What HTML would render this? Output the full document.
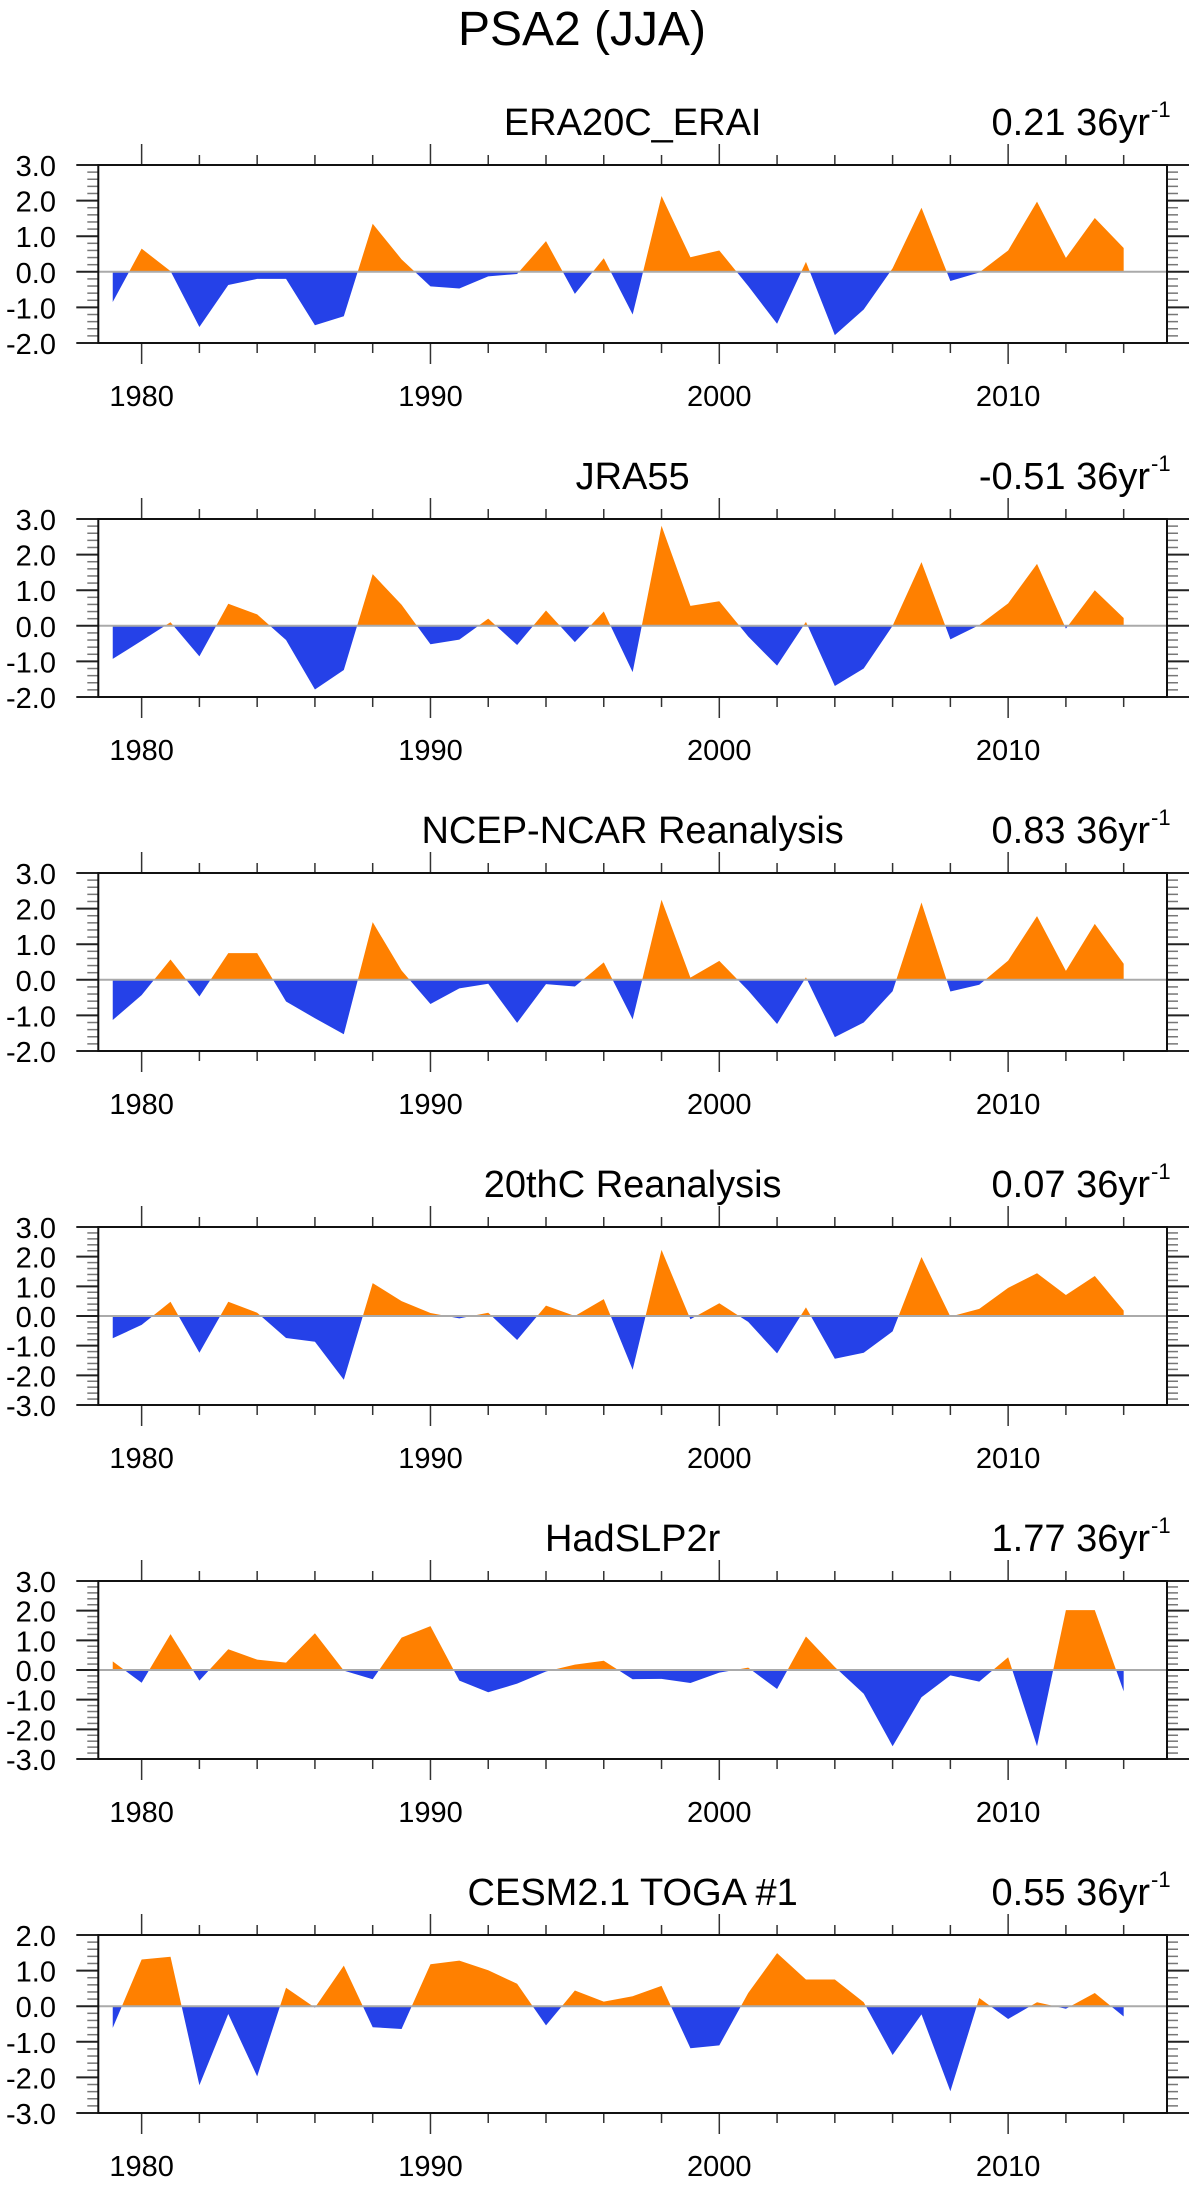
<!DOCTYPE html>
<html><head><meta charset="utf-8"><style>
html,body{margin:0;padding:0;background:#fff;}
svg{display:block;font-family:"Liberation Sans",sans-serif;}
</style></head><body>
<svg id="fig" width="1198" height="2186" viewBox="0 0 1198 2186" xmlns="http://www.w3.org/2000/svg">
<text x="582" y="45" font-size="48" text-anchor="middle">PSA2 (JJA)</text>
</svg>
<script>
const years = [1979,1980,1981,1982,1983,1984,1985,1986,1987,1988,1989,1990,1991,1992,1993,1994,1995,1996,1997,1998,1999,2000,2001,2002,2003,2004,2005,2006,2007,2008,2009,2010,2011,2012,2013,2014];
const panelTitles = ["ERA20C_ERAI","JRA55","NCEP-NCAR Reanalysis","20thC Reanalysis","HadSLP2r","CESM2.1 TOGA #1"];
const trendLabels = ["0.21","-0.51","0.83","0.07","1.77","0.55"];
const yMins = [-2,-2,-2,-3,-3,-3];
const yMaxs = [3,3,3,3,3,2];
const xTickLabels = [1980,1990,2000,2010];
const era20c = [-0.85,0.65,0.02,-1.55,-0.37,-0.2,-0.2,-1.5,-1.25,1.35,0.35,-0.41,-0.47,-0.13,-0.06,0.86,-0.62,0.38,-1.2,2.13,0.41,0.6,-0.4,-1.46,0.28,-1.78,-1.06,0.1,1.8,-0.26,-0.02,0.6,1.97,0.39,1.51,0.67];
const jra55 = [-0.93,-0.42,0.1,-0.86,0.62,0.32,-0.4,-1.79,-1.24,1.45,0.59,-0.52,-0.39,0.2,-0.54,0.43,-0.46,0.4,-1.3,2.81,0.56,0.69,-0.3,-1.12,0.11,-1.69,-1.2,0.0,1.79,-0.38,0.02,0.63,1.74,-0.08,1.0,0.22];
const ncep = [-1.13,-0.43,0.57,-0.47,0.75,0.75,-0.61,-1.08,-1.53,1.62,0.26,-0.68,-0.24,-0.11,-1.21,-0.12,-0.19,0.49,-1.11,2.25,0.06,0.53,-0.3,-1.24,0.07,-1.61,-1.2,-0.32,2.17,-0.33,-0.14,0.54,1.79,0.25,1.57,0.45];
const c20 = [-0.75,-0.3,0.48,-1.24,0.48,0.11,-0.74,-0.87,-2.15,1.11,0.5,0.1,-0.08,0.11,-0.81,0.35,0.0,0.57,-1.81,2.23,-0.11,0.43,-0.2,-1.26,0.29,-1.44,-1.24,-0.52,1.99,-0.02,0.24,0.95,1.44,0.71,1.35,0.18];
const hadslp = [0.29,-0.43,1.21,-0.36,0.7,0.35,0.25,1.24,-0.02,-0.31,1.09,1.48,-0.36,-0.75,-0.46,-0.05,0.18,0.31,-0.31,-0.3,-0.44,-0.09,0.08,-0.64,1.13,0.1,-0.8,-2.57,-0.92,-0.18,-0.39,0.43,-2.57,2.02,2.02,-0.72];
const cesm = [-0.61,1.31,1.39,-2.22,-0.22,-1.97,0.52,-0.04,1.14,-0.59,-0.64,1.18,1.28,1.01,0.63,-0.54,0.44,0.13,0.28,0.57,-1.18,-1.1,0.37,1.49,0.75,0.75,0.11,-1.37,-0.23,-2.39,0.23,-0.36,0.11,-0.07,0.37,-0.29];
const seriesList = [era20c,jra55,ncep,c20,hadslp,cesm];

const NS="http://www.w3.org/2000/svg";
const svg=document.getElementById('fig');
const L=98.3,R=1167,H=178,TOP0=165,STEP=354;
const X0=1978.5,X1=2015.5;
function mk(tag,attrs,parent){const e=document.createElementNS(NS,tag);for(const k in attrs)e.setAttribute(k,attrs[k]);(parent||svg).appendChild(e);return e;}
function xs(yr){return L+(yr-X0)/(X1-X0)*(R-L);}

seriesList.forEach((vals,p)=>{
  const top=TOP0+p*STEP, bot=top+H;
  const ymin=yMins[p], ymax=yMaxs[p];
  const ys=v=>bot-(v-ymin)/(ymax-ymin)*H;
  const g=mk('g',{});
  
  
  const t=mk('text',{x:(L+R)/2,y:top-30,'font-size':38,'text-anchor':'middle'},g);
  t.textContent=panelTitles[p];
  
  
  const tr=mk('text',{x:1150,y:top-30,'font-size':38,'text-anchor':'end'},g);
  tr.textContent=trendLabels[p]+' 36yr';
  
  
  const sp=mk('text',{x:1151,y:top-48,'font-size':22},g);
  sp.textContent='-1';
  
  
  const y0=ys(0);
  let d='M'+xs(years[0])+','+y0;
  years.forEach((yr,i)=>{d+=' L'+xs(yr).toFixed(2)+','+ys(vals[i]).toFixed(2);});
  d+=' L'+xs(years[years.length-1])+','+y0+' Z';
  const cpA=mk('clipPath',{id:'ca'+p},g);mk('rect',{x:L,y:top,width:R-L,height:y0-top},cpA);
  const cpB=mk('clipPath',{id:'cb'+p},g);mk('rect',{x:L,y:y0,width:R-L,height:bot-y0},cpB);
  const pa=mk('path',{d:d,fill:'#ff8000','clip-path':'url(#ca'+p+')'},g);
  
  
  const pb=mk('path',{d:d,fill:'#2541e8','clip-path':'url(#cb'+p+')'},g);
  
  
  const zl=mk('line',{x1:L,x2:R,y1:y0,y2:y0,stroke:'#aaa','stroke-width':2},g);
  
  
  const nMinor=Math.round((ymax-ymin)/0.2);
  for(let k=0;k<=nMinor;k++){
    const v=Math.round((ymin+k*0.2)*10)/10;
    const y=ys(v);const major=Math.abs(v-Math.round(v))<1e-6;
    const len=major?22:11;
    mk('line',{x1:L-len,x2:L,y1:y,y2:y,stroke:major?'#222':'#777','stroke-width':major?2:1.5},g);
    mk('line',{x1:R,x2:R+len,y1:y,y2:y,stroke:major?'#222':'#777','stroke-width':major?2:1.5},g);
    if(major){
      const lb=mk('text',{x:56,y:y+11,'font-size':29,'text-anchor':'end'},g);
      const vv=Math.round(v);
      lb.textContent=(vv===0?'0':String(vv))+'.0';
      
      
    }
  }
  for(let yr=1980;yr<=2014;yr+=2){
    const x=xs(yr);const major=yr%10===0;const len=major?21:10;
    mk('line',{x1:x,x2:x,y1:top-len,y2:top,stroke:'#333','stroke-width':1.5},g);
    mk('line',{x1:x,x2:x,y1:bot,y2:bot+len,stroke:'#333','stroke-width':1.5},g);
  }
  xTickLabels.forEach(yr=>{
    const lb=mk('text',{x:xs(yr),y:bot+63,'font-size':29,'text-anchor':'middle'},g);
    lb.textContent=yr;
    
    
  });
  const fr=mk('rect',{x:L,y:top,width:R-L,height:H,fill:'none',stroke:'#111','stroke-width':2},g);
  
  
});
</script>
</body></html>
